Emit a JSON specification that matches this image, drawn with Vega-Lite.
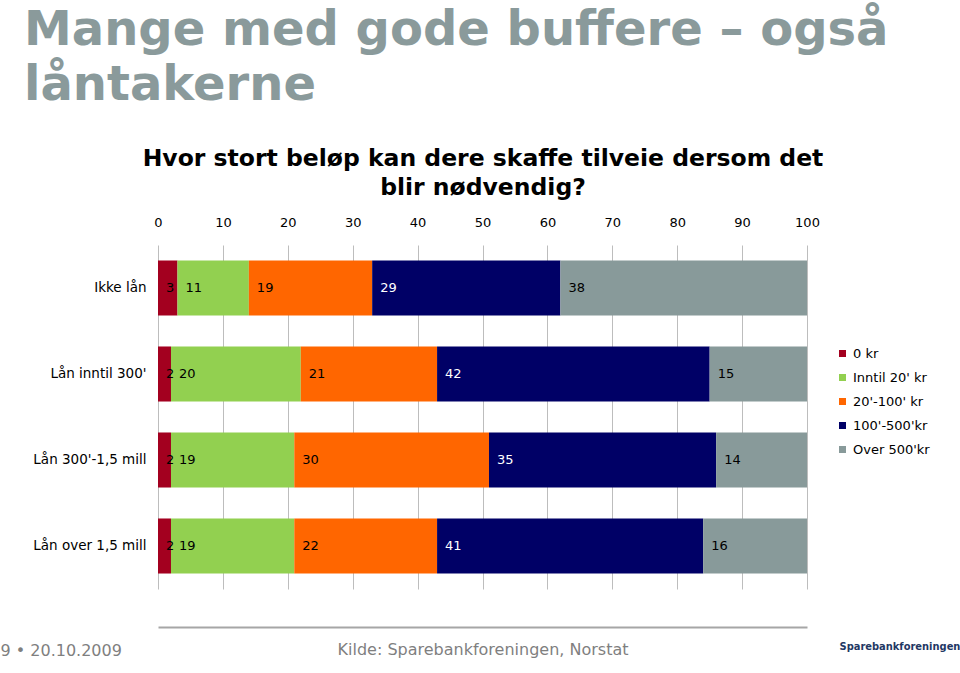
{
  "$schema": "https://vega.github.io/schema/vega-lite/v6.json",
  "width": 649,
  "height": 344,
  "autosize": {"type": "none"},
  "padding": {"left": 158, "top": 245, "right": 153, "bottom": 84},
  "background": "white",
  "config": {"font": "DejaVu Sans", "view": {"stroke": null}},
  "title": {
    "text": ["Mange med gode buffere – også", "låntakerne"],
    "anchor": "start",
    "frame": "group",
    "fontSize": 48,
    "fontWeight": "bold",
    "color": "#8A9A9B",
    "lineHeight": 55,
    "dx": -134,
    "offset": 36
  },
  "data": {
    "values": [
      {"cat": "Ikke lån", "seg": "0 kr", "ord": 1, "value": 3},
      {"cat": "Ikke lån", "seg": "Inntil 20' kr", "ord": 2, "value": 11},
      {"cat": "Ikke lån", "seg": "20'-100' kr", "ord": 3, "value": 19},
      {"cat": "Ikke lån", "seg": "100'-500'kr", "ord": 4, "value": 29},
      {"cat": "Ikke lån", "seg": "Over 500'kr", "ord": 5, "value": 38},
      {"cat": "Lån inntil 300'", "seg": "0 kr", "ord": 1, "value": 2},
      {"cat": "Lån inntil 300'", "seg": "Inntil 20' kr", "ord": 2, "value": 20},
      {"cat": "Lån inntil 300'", "seg": "20'-100' kr", "ord": 3, "value": 21},
      {"cat": "Lån inntil 300'", "seg": "100'-500'kr", "ord": 4, "value": 42},
      {"cat": "Lån inntil 300'", "seg": "Over 500'kr", "ord": 5, "value": 15},
      {"cat": "Lån 300'-1,5 mill", "seg": "0 kr", "ord": 1, "value": 2},
      {"cat": "Lån 300'-1,5 mill", "seg": "Inntil 20' kr", "ord": 2, "value": 19},
      {"cat": "Lån 300'-1,5 mill", "seg": "20'-100' kr", "ord": 3, "value": 30},
      {"cat": "Lån 300'-1,5 mill", "seg": "100'-500'kr", "ord": 4, "value": 35},
      {"cat": "Lån 300'-1,5 mill", "seg": "Over 500'kr", "ord": 5, "value": 14},
      {"cat": "Lån over  1,5 mill", "seg": "0 kr", "ord": 1, "value": 2},
      {"cat": "Lån over  1,5 mill", "seg": "Inntil 20' kr", "ord": 2, "value": 19},
      {"cat": "Lån over  1,5 mill", "seg": "20'-100' kr", "ord": 3, "value": 22},
      {"cat": "Lån over  1,5 mill", "seg": "100'-500'kr", "ord": 4, "value": 41},
      {"cat": "Lån over  1,5 mill", "seg": "Over 500'kr", "ord": 5, "value": 16}
    ]
  },
  "transform": [
    {"stack": "value", "groupby": ["cat"], "sort": [{"field": "ord", "order": "ascending"}], "as": ["v0", "v1"]}
  ],
  "encoding": {
    "y": {
      "field": "cat",
      "type": "nominal",
      "sort": ["Ikke lån", "Lån inntil 300'", "Lån 300'-1,5 mill", "Lån over  1,5 mill"],
      "scale": {"paddingInner": 0.36, "paddingOuter": 0.18}
    }
  },
  "layer": [
    {
      "mark": {"type": "bar"},
      "encoding": {
        "x": {
          "field": "v0",
          "type": "quantitative",
          "scale": {"domain": [0, 100], "nice": false, "zero": true},
          "axis": {
            "orient": "top",
            "grid": true,
            "gridColor": "#BDBDBD",
            "gridWidth": 1,
            "ticks": false,
            "domain": false,
            "values": [0, 10, 20, 30, 40, 50, 60, 70, 80, 90, 100],
            "labelFlush": false,
            "labelFontSize": 13,
            "labelColor": "#000000",
            "labelPadding": 16,
            "title": ["Hvor stort beløp kan dere skaffe tilveie dersom det", "blir nødvendig?"],
            "titleFontSize": 23.5,
            "titleFontWeight": "bold",
            "titleColor": "#000000",
            "titlePadding": 17,
            "titleLineHeight": 29
          }
        },
        "x2": {"field": "v1"},
        "y": {
          "field": "cat",
          "type": "nominal",
          "sort": ["Ikke lån", "Lån inntil 300'", "Lån 300'-1,5 mill", "Lån over  1,5 mill"],
          "axis": {
            "domain": false,
            "ticks": false,
            "labelFontSize": 13.5,
            "labelColor": "#000000",
            "labelPadding": 12,
            "title": "9 • 20.10.2009",
            "titleAngle": 0,
            "titleX": -158,
            "titleY": 405,
            "titleAlign": "left",
            "titleBaseline": "middle",
            "titleFontWeight": "normal",
            "titleFontSize": 16,
            "titleColor": "#7F7F7F"
          }
        },
        "color": {
          "field": "seg",
          "type": "nominal",
          "scale": {
            "domain": ["0 kr", "Inntil 20' kr", "20'-100' kr", "100'-500'kr", "Over 500'kr"],
            "range": ["#A3001F", "#92D050", "#FF6600", "#000066", "#889A9A"]
          },
          "legend": {
            "orient": "none",
            "legendX": 678,
            "legendY": 102,
            "title": null,
            "padding": 0,
            "symbolType": "square",
            "symbolSize": 49,
            "symbolStrokeWidth": 0,
            "labelFontSize": 13,
            "labelColor": "#000000",
            "labelOffset": 4,
            "rowPadding": 10
          }
        }
      }
    },
    {
      "mark": {"type": "text", "align": "left", "baseline": "middle", "dx": 8, "fontSize": 13},
      "encoding": {
        "x": {
          "field": "v0",
          "type": "quantitative",
          "axis": {
            "orient": "bottom",
            "grid": false,
            "labels": false,
            "ticks": false,
            "domain": true,
            "domainColor": "#A6A6A6",
            "domainWidth": 2,
            "offset": 38,
            "title": "Kilde: Sparebankforeningen, Norstat",
            "titleFontSize": 16,
            "titleFontWeight": "normal",
            "titleColor": "#7F7F7F",
            "titlePadding": 14
          }
        },
        "y": {
          "field": "cat",
          "type": "nominal",
          "sort": ["Ikke lån", "Lån inntil 300'", "Lån 300'-1,5 mill", "Lån over  1,5 mill"],
          "axis": {
            "orient": "right",
            "labels": false,
            "ticks": false,
            "domain": false,
            "title": "Sparebankforeningen",
            "titleAngle": 0,
            "titleX": 32,
            "titleY": 401,
            "titleAlign": "left",
            "titleBaseline": "middle",
            "titleFont": "DejaVu Sans Condensed",
            "titleFontSize": 11,
            "titleFontWeight": "bold",
            "titleColor": "#1F3864"
          }
        },
        "text": {"field": "value", "type": "quantitative"},
        "color": {"condition": {"test": "datum.ord === 4", "value": "#FFFFFF"}, "value": "#000000"}
      }
    }
  ],
  "resolve": {"axis": {"x": "independent", "y": "independent"}}
}
